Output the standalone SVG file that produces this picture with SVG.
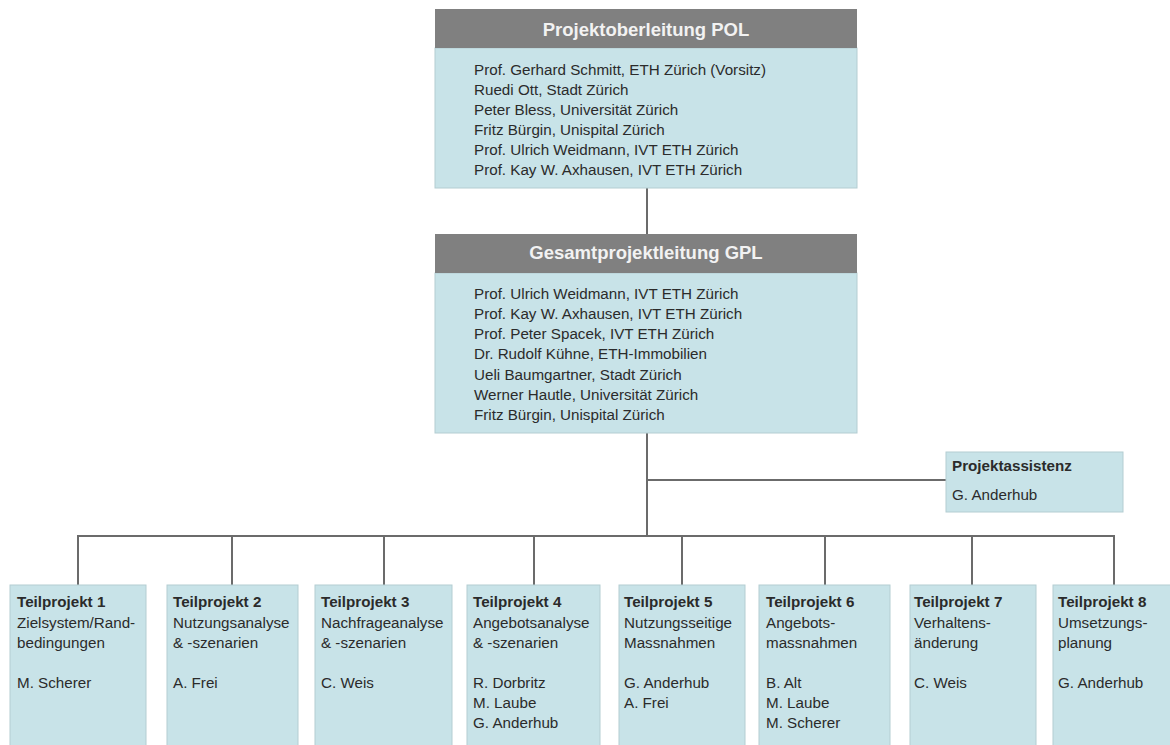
<svg xmlns="http://www.w3.org/2000/svg" width="1170" height="745" viewBox="0 0 1170 745">
<style>
.box{fill:#c8e3e8;stroke:#b4cdd2;stroke-width:1}
.hdr{fill:#808080}
.ht{font-family:"Liberation Sans",Arial,sans-serif;font-weight:bold;font-size:18.5px;fill:#f2f2f2;text-anchor:middle}
.t{font-family:"Liberation Sans",Arial,sans-serif;font-size:15.2px;fill:#2b2b2b}
.b{font-weight:bold}
.c{stroke:#6b6b6b;stroke-width:2;fill:none}
</style>
<rect width="1170" height="745" fill="#ffffff"/>
<g id="connectors">
<line class="c" x1="647" y1="188" x2="647" y2="234"/>
<line class="c" x1="647" y1="433" x2="647" y2="537"/>
<line class="c" x1="647" y1="480" x2="946" y2="480"/>
<line class="c" x1="77" y1="536" x2="1115" y2="536"/>
<line class="c" x1="78" y1="535" x2="78" y2="585"/>
<line class="c" x1="232" y1="535" x2="232" y2="585"/>
<line class="c" x1="384" y1="535" x2="384" y2="585"/>
<line class="c" x1="534" y1="535" x2="534" y2="585"/>
<line class="c" x1="682" y1="535" x2="682" y2="585"/>
<line class="c" x1="825" y1="535" x2="825" y2="585"/>
<line class="c" x1="972" y1="535" x2="972" y2="585"/>
<line class="c" x1="1114" y1="535" x2="1114" y2="585"/>
</g>
<g id="pol">
<rect class="box" x="435" y="48" width="422" height="140"/>
<rect class="hdr" x="435" y="9" width="422" height="39"/>
<text class="ht" x="646" y="36">Projektoberleitung POL</text>
<text class="t" x="474" y="75">Prof. Gerhard Schmitt, ETH Zürich (Vorsitz)</text>
<text class="t" x="474" y="95">Ruedi Ott, Stadt Zürich</text>
<text class="t" x="474" y="115">Peter Bless, Universität Zürich</text>
<text class="t" x="474" y="135">Fritz Bürgin, Unispital Zürich</text>
<text class="t" x="474" y="155">Prof. Ulrich Weidmann, IVT ETH Zürich</text>
<text class="t" x="474" y="175">Prof. Kay W. Axhausen, IVT ETH Zürich</text>
</g>
<g id="gpl">
<rect class="box" x="435" y="273" width="422" height="160"/>
<rect class="hdr" x="435" y="234" width="422" height="39"/>
<text class="ht" x="646" y="259">Gesamtprojektleitung GPL</text>
<text class="t" x="474" y="298.5">Prof. Ulrich Weidmann, IVT ETH Zürich</text>
<text class="t" x="474" y="318.8">Prof. Kay W. Axhausen, IVT ETH Zürich</text>
<text class="t" x="474" y="339.1">Prof. Peter Spacek, IVT ETH Zürich</text>
<text class="t" x="474" y="359.4">Dr. Rudolf Kühne, ETH-Immobilien</text>
<text class="t" x="474" y="379.7">Ueli Baumgartner, Stadt Zürich</text>
<text class="t" x="474" y="400">Werner Hautle, Universität Zürich</text>
<text class="t" x="474" y="420.3">Fritz Bürgin, Unispital Zürich</text>
</g>
<g id="assistenz">
<rect class="box" x="946" y="452" width="177" height="60"/>
<text class="t b" x="952" y="471">Projektassistenz</text>
<text class="t" x="952" y="500">G. Anderhub</text>
</g>
<g id="tp1">
<rect class="box" x="10" y="585" width="136" height="170"/>
<text class="t b" x="17" y="607">Teilprojekt 1</text>
<text class="t" x="17" y="627.5">Zielsystem/Rand-</text>
<text class="t" x="17" y="648">bedingungen</text>
<text class="t" x="17" y="688">M. Scherer</text>
</g>
<g id="tp2">
<rect class="box" x="167" y="585" width="131" height="170"/>
<text class="t b" x="173" y="607">Teilprojekt 2</text>
<text class="t" x="173" y="627.5">Nutzungsanalyse</text>
<text class="t" x="173" y="648">&amp; -szenarien</text>
<text class="t" x="173" y="688">A. Frei</text>
</g>
<g id="tp3">
<rect class="box" x="315" y="585" width="137" height="170"/>
<text class="t b" x="321" y="607">Teilprojekt 3</text>
<text class="t" x="321" y="627.5">Nachfrageanalyse</text>
<text class="t" x="321" y="648">&amp; -szenarien</text>
<text class="t" x="321" y="688">C. Weis</text>
</g>
<g id="tp4">
<rect class="box" x="467" y="585" width="133" height="170"/>
<text class="t b" x="473" y="607">Teilprojekt 4</text>
<text class="t" x="473" y="627.5">Angebotsanalyse</text>
<text class="t" x="473" y="648">&amp; -szenarien</text>
<text class="t" x="473" y="688">R. Dorbritz</text>
<text class="t" x="473" y="708">M. Laube</text>
<text class="t" x="473" y="728">G. Anderhub</text>
</g>
<g id="tp5">
<rect class="box" x="619" y="585" width="126" height="170"/>
<text class="t b" x="624" y="607">Teilprojekt 5</text>
<text class="t" x="624" y="627.5">Nutzungsseitige</text>
<text class="t" x="624" y="648">Massnahmen</text>
<text class="t" x="624" y="688">G. Anderhub</text>
<text class="t" x="624" y="708">A. Frei</text>
</g>
<g id="tp6">
<rect class="box" x="759" y="585" width="131" height="170"/>
<text class="t b" x="766" y="607">Teilprojekt 6</text>
<text class="t" x="766" y="627.5">Angebots-</text>
<text class="t" x="766" y="648">massnahmen</text>
<text class="t" x="766" y="688">B. Alt</text>
<text class="t" x="766" y="708">M. Laube</text>
<text class="t" x="766" y="728">M. Scherer</text>
</g>
<g id="tp7">
<rect class="box" x="910" y="585" width="126" height="170"/>
<text class="t b" x="914" y="607">Teilprojekt 7</text>
<text class="t" x="914" y="627.5">Verhaltens-</text>
<text class="t" x="914" y="648">änderung</text>
<text class="t" x="914" y="688">C. Weis</text>
</g>
<g id="tp8">
<rect class="box" x="1053" y="585" width="125" height="170"/>
<text class="t b" x="1058" y="607">Teilprojekt 8</text>
<text class="t" x="1058" y="627.5">Umsetzungs-</text>
<text class="t" x="1058" y="648">planung</text>
<text class="t" x="1058" y="688">G. Anderhub</text>
</g>
</svg>
